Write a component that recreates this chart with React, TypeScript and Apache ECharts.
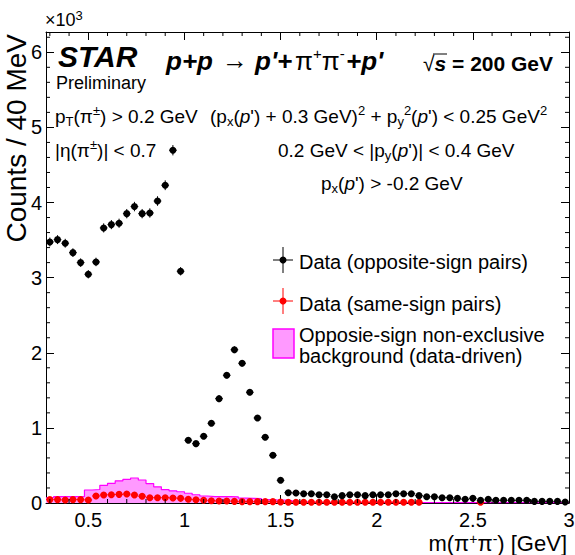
import React, { useEffect, useRef } from 'react';
import * as echarts from 'echarts';

const FONT = "'Liberation Sans', Arial, Helvetica, sans-serif";

// bin centres of m(pi+pi-) [GeV], 40 MeV bins
const binCenters = [
  0.30, 0.34, 0.38, 0.42, 0.46, 0.50, 0.54, 0.58, 0.62, 0.66,
  0.70, 0.74, 0.78, 0.82, 0.86, 0.90, 0.94, 0.98, 1.02, 1.06,
  1.10, 1.14, 1.18, 1.22, 1.26, 1.30, 1.34, 1.38, 1.42, 1.46,
  1.50, 1.54, 1.58, 1.62, 1.66, 1.70, 1.74, 1.78, 1.82, 1.86,
  1.90, 1.94, 1.98, 2.02, 2.06, 2.10, 2.14, 2.18, 2.22, 2.26,
  2.30, 2.34, 2.38, 2.42, 2.46, 2.50, 2.54, 2.58, 2.62, 2.66,
  2.70, 2.74, 2.78, 2.82, 2.86, 2.90, 2.94, 2.98,
];
const binHalfWidth = 0.02;

// counts (x10^3)
const oppositeSign = [
  3.475, 3.506, 3.458, 3.333, 3.200, 3.045, 3.209, 3.662, 3.706, 3.724,
  3.852, 3.946, 3.852, 3.861, 4.020, 4.230, 4.696, 3.085, 0.835, 0.790,
  0.888, 1.061, 1.389, 1.700, 2.040, 1.860, 1.474, 1.132, 0.875, 0.635,
  0.302, 0.137, 0.133, 0.124, 0.124, 0.111, 0.111, 0.084, 0.098, 0.111,
  0.111, 0.098, 0.111, 0.111, 0.111, 0.124, 0.124, 0.124, 0.098, 0.084,
  0.084, 0.071, 0.071, 0.062, 0.049, 0.062, 0.036, 0.049, 0.036, 0.036,
  0.036, 0.036, 0.036, 0.022, 0.022, 0.022, 0.022, 0.013,
];
const sameSign: (number | null)[] = [
  0.045, 0.045, 0.040, 0.045, 0.045, 0.040, 0.093, 0.107, 0.111, 0.115,
  0.120, 0.107, 0.090, 0.071, 0.071, 0.071, 0.067, 0.062, 0.050, 0.044,
  0.036, 0.031, 0.027, 0.027, 0.022, 0.018, 0.018, 0.018, 0.018, 0.018,
  0.013, 0.010, 0.010, 0.010, 0.010, 0.010, 0.010, 0.010, 0.010, 0.010,
  0.010, 0.010, 0.010, 0.010, 0.010, 0.010, 0.010, 0.010, 0.010, null,
  null, null, null, null, null, null, 0.010, null, null, null,
  null, null, null, null, null, null, null, null,
];
const background = [
  0.070, 0.085, 0.085, 0.085, 0.088, 0.173, 0.180, 0.235, 0.262, 0.295,
  0.315, 0.333, 0.306, 0.258, 0.215, 0.178, 0.162, 0.150, 0.130, 0.110,
  0.093, 0.086, 0.085, 0.084, 0.082, 0.064, 0.062, 0.060, 0.045, 0.042,
  0.040, 0.033, 0.020, 0.015, 0.012, 0.010, 0.008, 0.008, 0.008, 0.008,
  0.008, 0.008, 0.008, 0.008, 0.008, 0.006, 0.006, 0.006, 0.006, 0.006,
  0.006, 0.006, 0.006, 0.006, 0.006, 0.004, 0.004, 0.004, 0.004, 0.004,
  0.004, 0.004, 0.004, 0.004, 0.004, 0.004, 0.004, 0.004,
];

const xMin = 0.28;
const xMax = 3.0;
const yMin = 0;
const yMax = 6.27;
const xMinorTicks = [
  0.3, 0.4, 0.6, 0.7, 0.8, 0.9, 1.1, 1.2, 1.3, 1.4, 1.6, 1.7, 1.8, 1.9,
  2.1, 2.2, 2.3, 2.4, 2.6, 2.7, 2.8, 2.9,
];
const yMinorTicks = [
  0.2, 0.4, 0.6, 0.8, 1.2, 1.4, 1.6, 1.8, 2.2, 2.4, 2.6, 2.8, 3.2, 3.4, 3.6, 3.8,
  4.2, 4.4, 4.6, 4.8, 5.2, 5.4, 5.6, 5.8, 6.2,
];

const BLACK = '#000000';
const RED = '#ff0000';
const FILL = '#ff99ff';
const EDGE = '#ff00ff';

function errorBarSeries(name: string, values: (number | null)[], color: string) {
  const data: number[][] = [];
  values.forEach((v, i) => {
    if (v !== null) data.push([binCenters[i], v, Math.sqrt(v * 1000) / 1000]);
  });
  return {
    name,
    type: 'custom',
    xAxisIndex: 0,
    yAxisIndex: 0,
    data,
    z: 4,
    renderItem: (_p: any, api: any) => {
      const x = api.value(0);
      const y = api.value(1);
      const e = api.value(2);
      const t = api.coord([x, y + e]);
      const b = api.coord([x, y - e]);
      const l = api.coord([x - binHalfWidth, y]);
      const r = api.coord([x + binHalfWidth, y]);
      return {
        type: 'group',
        children: [
          { type: 'line', shape: { x1: t[0], y1: t[1], x2: b[0], y2: b[1] }, style: { stroke: color, lineWidth: 1 } },
          { type: 'line', shape: { x1: l[0], y1: l[1], x2: r[0], y2: r[1] }, style: { stroke: color, lineWidth: 1 } },
        ],
      };
    },
  };
}

function pointSeries(name: string, values: (number | null)[], color: string, z: number) {
  const data: number[][] = [];
  values.forEach((v, i) => {
    if (v !== null) data.push([binCenters[i], v]);
  });
  return {
    name,
    type: 'scatter',
    xAxisIndex: 0,
    yAxisIndex: 0,
    data,
    symbol: 'circle',
    symbolSize: 7,
    itemStyle: { color, opacity: 1 },
    z,
  };
}

const richBase = {
  sub: { fontSize: 13, fontFamily: FONT, fill: BLACK, verticalAlign: 'bottom', lineHeight: 13 },
  sup: { fontSize: 13, fontFamily: FONT, fill: BLACK, verticalAlign: 'top', lineHeight: 13 },
  it: { fontSize: 19, fontFamily: FONT, fill: BLACK, fontStyle: 'italic', lineHeight: 24 },
};

function richText(x: number, y: number, text: string, fontSize = 19, align = 'left') {
  return {
    type: 'text',
    x,
    y,
    silent: true,
    style: {
      text,
      fontSize,
      fontFamily: FONT,
      fill: BLACK,
      lineHeight: 24,
      align,
      textAlign: align,
      verticalAlign: 'middle',
      textVerticalAlign: 'middle',
      rich: richBase,
    },
  };
}

const TITLE_SIZE = 26;
const titleBI = { fontSize: TITLE_SIZE, fontFamily: FONT, fontWeight: 'bold', fontStyle: 'italic', fill: BLACK };
const titleRg = { fontSize: TITLE_SIZE, fontFamily: FONT, fill: BLACK };

function plain(x: number, y: number, text: string, style: any) {
  return {
    type: 'text', x, y, silent: true,
    style: { text, ...style, align: 'left', textAlign: 'left', verticalAlign: 'middle', textVerticalAlign: 'middle' },
  };
}

export default function App() {
  const ref = useRef<HTMLDivElement>(null);

  useEffect(() => {
    if (!ref.current) return;
    const chart = echarts.init(ref.current, undefined, { renderer: 'svg' });

    const bgLine: number[][] = background.map((v, i) => [binCenters[i] - binHalfWidth, v]);
    bgLine.push([binCenters[binCenters.length - 1] + binHalfWidth, background[background.length - 1]]);

    const axisCommon = {
      type: 'value',
      axisLine: { show: true, onZero: false, lineStyle: { color: BLACK, width: 1 } },
      axisTick: { show: true, inside: true, length: 8, lineStyle: { color: BLACK, width: 1 } },
      minorTick: { show: false },
      splitLine: { show: false },
    };

    const ty = 61;

    const option: any = {
      animation: false,
      backgroundColor: '#ffffff',
      grid: { left: 46, right: 6, top: 32, bottom: 52, containLabel: false, outerBoundsMode: 'none' },
      xAxis: [
        {
          ...axisCommon,
          min: xMin,
          max: xMax,
          position: 'bottom',
          axisLabel: { show: true, showMinLabel: false, color: BLACK, fontSize: 20, fontFamily: FONT, margin: 7 },
        },
        {
          ...axisCommon,
          min: xMin,
          max: xMax,
          position: 'top',
          axisLabel: { show: false },
        },
      ],
      yAxis: [
        {
          ...axisCommon,
          min: yMin,
          max: yMax,
          interval: 1,
          position: 'left',
          axisLabel: { show: true, showMaxLabel: false, color: BLACK, fontSize: 20, fontFamily: FONT, margin: 4 },
        },
        {
          ...axisCommon,
          min: yMin,
          max: yMax,
          interval: 1,
          position: 'right',
          axisLabel: { show: false },
        },
      ],
      series: [
        {
          name: 'Opposie-sign non-exclusive background (data-driven)',
          type: 'line',
          xAxisIndex: 0,
          yAxisIndex: 0,
          data: bgLine,
          step: 'end',
          symbol: 'none',
          lineStyle: { color: EDGE, width: 1.2 },
          areaStyle: { color: FILL, opacity: 1 },
          z: 1,
        },
        errorBarSeries('same-sign errors', sameSign, RED),
        pointSeries('Data (same-sign pairs)', sameSign, RED, 5),
        errorBarSeries('opposite-sign errors', oppositeSign, BLACK),
        pointSeries('Data (opposite-sign pairs)', oppositeSign, BLACK, 6),
        {
          name: 'x minor ticks',
          type: 'custom',
          xAxisIndex: 0,
          yAxisIndex: 0,
          data: xMinorTicks.map((v) => [v, 0]),
          z: 10,
          renderItem: (params: any, api: any) => {
            const cs = params.coordSys;
            const p = api.coord([api.value(0), 0]);
            const b = cs.y + cs.height;
            return {
              type: 'group',
              children: [
                { type: 'line', shape: { x1: p[0], y1: b, x2: p[0], y2: b - 4 }, style: { stroke: BLACK, lineWidth: 1 } },
                { type: 'line', shape: { x1: p[0], y1: cs.y, x2: p[0], y2: cs.y + 4 }, style: { stroke: BLACK, lineWidth: 1 } },
              ],
            };
          },
        },
        {
          name: 'y minor ticks',
          type: 'custom',
          xAxisIndex: 0,
          yAxisIndex: 0,
          data: yMinorTicks.map((v) => [xMin, v]),
          z: 10,
          renderItem: (params: any, api: any) => {
            const cs = params.coordSys;
            const p = api.coord([xMin, api.value(1)]);
            const r = cs.x + cs.width;
            return {
              type: 'group',
              children: [
                { type: 'line', shape: { x1: cs.x, y1: p[1], x2: cs.x + 4, y2: p[1] }, style: { stroke: BLACK, lineWidth: 1 } },
                { type: 'line', shape: { x1: r, y1: p[1], x2: r - 4, y2: p[1] }, style: { stroke: BLACK, lineWidth: 1 } },
              ],
            };
          },
        },
      ],
      graphic: [
        // axis multiplier
        {
          type: 'text', x: 45, y: 20, silent: true,
          style: {
            text: '×10{sup|3}', fontSize: 18, fontFamily: FONT, fill: BLACK, lineHeight: 22,
            align: 'left', textAlign: 'left', verticalAlign: 'middle', textVerticalAlign: 'middle',
            rich: { sup: { fontSize: 13, fontFamily: FONT, fill: BLACK, verticalAlign: 'top', lineHeight: 12 } },
          },
        },
        // y title
        {
          type: 'text', x: 16, y: 34, rotation: Math.PI / 2, silent: true,
          style: {
            text: 'Counts / 40 MeV', fontSize: 28, fontFamily: FONT, fill: BLACK,
            align: 'right', textAlign: 'right', verticalAlign: 'middle', textVerticalAlign: 'middle',
          },
        },
        // x title
        {
          type: 'text', x: 567, y: 543, silent: true,
          style: {
            text: 'm(π{sup|+}π{sup|-}) [GeV]', fontSize: 22, fontFamily: FONT, fill: BLACK, lineHeight: 22,
            align: 'right', textAlign: 'right', verticalAlign: 'middle', textVerticalAlign: 'middle',
            rich: { sup: { fontSize: 14, fontFamily: FONT, fill: BLACK, verticalAlign: 'top', lineHeight: 12 } },
          },
        },
        // STAR
        {
          type: 'text', x: 58, y: 56, silent: true,
          style: {
            text: 'STAR', fontSize: 30, fontFamily: FONT, fontWeight: 'bold', fontStyle: 'italic', fill: BLACK,
            align: 'left', textAlign: 'left', verticalAlign: 'middle', textVerticalAlign: 'middle',
          },
        },
        {
          type: 'text', x: 56, y: 83, silent: true,
          style: {
            text: 'Preliminary', fontSize: 18, fontFamily: FONT, fill: BLACK,
            align: 'left', textAlign: 'left', verticalAlign: 'middle', textVerticalAlign: 'middle',
          },
        },
        // reaction
        plain(166, ty, 'p+p', titleBI),
        plain(222, ty - 1, '→', titleRg),
        plain(255, ty, "p'+", titleBI),
        {
          type: 'text', x: 295, y: ty, silent: true,
          style: {
            text: 'π{sup|+}π{sup|-}',
            ...titleRg,
            lineHeight: 30,
            align: 'left', textAlign: 'left', verticalAlign: 'middle', textVerticalAlign: 'middle',
            rich: { sup: { fontSize: 15, fontFamily: FONT, fill: BLACK, verticalAlign: 'top', lineHeight: 15 } },
          },
        },
        plain(346, ty, "+p'", titleBI),
        {
          type: 'text', x: 423, y: 63, silent: true,
          style: {
            text: '{rg|√}{bi|s}{b| = 200 GeV}',
            fontSize: 21, fontFamily: FONT, fill: BLACK, lineHeight: 26,
            align: 'left', textAlign: 'left', verticalAlign: 'middle', textVerticalAlign: 'middle',
            rich: {
              rg: { fontSize: 21, fontFamily: FONT, fill: BLACK, lineHeight: 26 },
              bi: { fontSize: 21, fontFamily: FONT, fontWeight: 'bold', fontStyle: 'italic', fill: BLACK, lineHeight: 26 },
              b: { fontSize: 21, fontFamily: FONT, fontWeight: 'bold', fill: BLACK, lineHeight: 26 },
            },
          },
        },
        {
          type: 'line', silent: true,
          shape: { x1: 433, y1: 54, x2: 447, y2: 54 },
          style: { stroke: BLACK, lineWidth: 1 },
        },
        // cuts, left
        richText(55, 116, 'p{sub|T}(π{sup|±}) > 0.2 GeV'),
        richText(55, 150, '|η(π{sup|±})| < 0.7'),
        // cuts, right
        richText(210, 116, "(p{sub|x}({it|p}') + 0.3 GeV){sup|2} + p{sub|y}{sup|2}({it|p}') < 0.25 GeV{sup|2}"),
        richText(278, 150, "0.2 GeV < |p{sub|y}({it|p}')| < 0.4 GeV"),
        richText(321, 183, "p{sub|x}({it|p}') > -0.2 GeV"),
        // legend: opposite sign
        { type: 'line', silent: true, shape: { x1: 273, y1: 260, x2: 293, y2: 260 }, style: { stroke: BLACK, lineWidth: 1 } },
        { type: 'line', silent: true, shape: { x1: 283, y1: 247, x2: 283, y2: 273 }, style: { stroke: BLACK, lineWidth: 1 } },
        { type: 'circle', silent: true, shape: { cx: 283, cy: 260, r: 3.5 }, style: { fill: BLACK } },
        richText(299, 262, 'Data (opposite-sign pairs)', 20),
        // legend: same sign
        { type: 'line', silent: true, shape: { x1: 273, y1: 301, x2: 293, y2: 301 }, style: { stroke: RED, lineWidth: 1 } },
        { type: 'line', silent: true, shape: { x1: 283, y1: 288, x2: 283, y2: 314 }, style: { stroke: RED, lineWidth: 1 } },
        { type: 'circle', silent: true, shape: { cx: 283, cy: 301, r: 3.5 }, style: { fill: RED } },
        richText(299, 304, 'Data (same-sign pairs)', 20),
        // legend: background
        { type: 'rect', silent: true, shape: { x: 273, y: 329, width: 21, height: 29 }, style: { fill: FILL, stroke: EDGE, lineWidth: 1.5 } },
        richText(299, 335, 'Opposie-sign non-exclusive', 20),
        richText(299, 356, 'background (data-driven)', 20),
      ],
    };

    chart.setOption(option);
    return () => chart.dispose();
  }, []);

  return (
    <div
      ref={ref}
      style={{ position: 'fixed', left: 0, top: 0, width: 575, height: 555, background: '#fff' }}
    />
  );
}
